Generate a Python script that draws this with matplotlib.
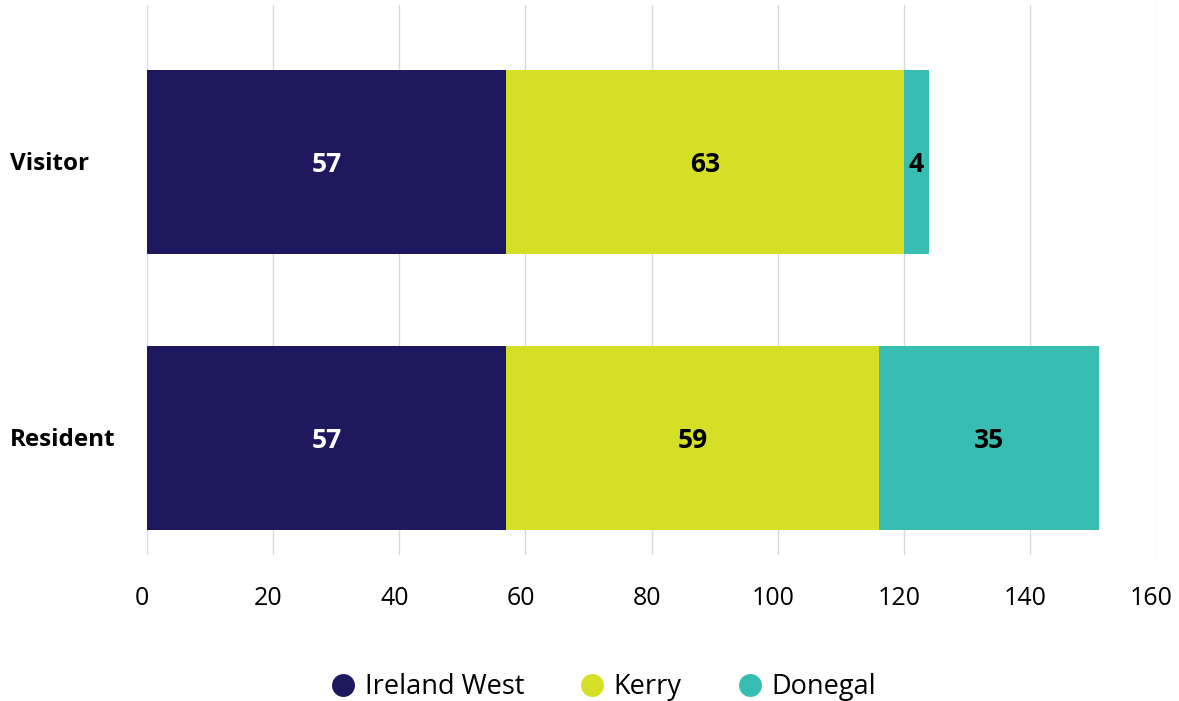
import matplotlib
matplotlib.use("Agg")
import matplotlib.pyplot as plt
import matplotlib.transforms as mtransforms
from matplotlib.lines import Line2D

categories = ["Resident", "Visitor"]
series_names = ["Ireland West", "Kerry", "Donegal"]
ireland_west = [57, 57]
kerry = [59, 63]
donegal = [35, 4]
colors = ["#1e195e", "#d4df25", "#38bdb3"]
label_colors = ["white", "black", "black"]
xticks = [0, 20, 40, 60, 80, 100, 120, 140, 160]

plt.rcParams['font.family'] = ['Open Sans', 'DejaVu Sans']

fig = plt.figure(figsize=(11.79, 7.01), dpi=100)
ax = fig.add_axes([147/1179, 1-555/701, (1156-147)/1179, 550/701])

ypos = list(range(len(categories)))
left = [0]*len(categories)
for vals, col, lc in zip([ireland_west, kerry, donegal], colors, label_colors):
    ax.barh(ypos, vals, left=left, color=col, height=0.667, zorder=2)
    for y, v, l in zip(ypos, vals, left):
        ax.annotate(str(v), xy=(l + v/2, y), xytext=(0, -2), textcoords='offset points',
                    ha='center', va='center', color=lc,
                    fontsize=19, fontweight='bold', zorder=3)
    left = [a+b for a, b in zip(left, vals)]

ax.set_xlim(0, 160)
ax.set_ylim(-0.424, 1.569)
ax.set_xticks(xticks)
ax.set_xticklabels([str(t) for t in xticks], fontsize=18)
ax.set_yticks(ypos)
ax.set_yticklabels([])
for y, c in zip(ypos, categories):
    ax.annotate(c, xy=(-137/1009, y), xycoords=ax.get_yaxis_transform(),
                xytext=(0, -1.5), textcoords='offset points', ha='left',
                va='center', fontsize=17.5, fontweight='bold')
ax.tick_params(axis='both', length=0)
ax.tick_params(axis='x', pad=22.5)
shift = mtransforms.ScaledTranslation(-5/100, 0, fig.dpi_scale_trans)
for lab in ax.get_xticklabels():
    lab.set_transform(lab.get_transform() + shift)
ax.grid(axis='x', color='#d9d9d9', linewidth=1, zorder=0)
for s in ax.spines.values():
    s.set_visible(False)

handles = [Line2D([0], [0], marker='o', color='none', markerfacecolor=c,
                  markeredgecolor=c, markersize=15.5) for c in colors]
fig.legend(handles, series_names, loc='center', bbox_to_anchor=(596/1179, 1-687/701),
           ncol=3, frameon=False, fontsize=19.5, handletextpad=-0.2, columnspacing=1.5,
           handlelength=2.0)

fig.savefig("out.png", dpi=100)
